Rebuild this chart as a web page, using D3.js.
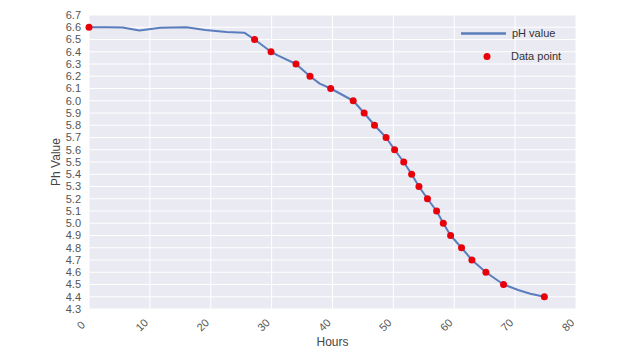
<!DOCTYPE html>
<style>
  html, body { margin:0; background:#fff; overflow:hidden; }
  text { font-family: "Liberation Sans", Arial, sans-serif; }
</style>
<svg width="640" height="353"></svg>
<script src="https://d3js.org/d3.v7.min.js"></script>
<script>

// sampled data points (red dots)
var dataHours = [0, 27.2, 29.9, 34.0, 36.3, 39.7, 43.4, 45.2, 46.9, 48.8, 50.2, 51.7, 53.0,
                 54.2, 55.6, 57.1, 58.2, 59.4, 61.2, 62.9, 65.2, 68.1, 74.8];
var dataPh = [6.6, 6.5, 6.4, 6.3, 6.2, 6.1, 6.0, 5.9, 5.8, 5.7, 5.6, 5.5, 5.4,
              5.3, 5.2, 5.1, 5.0, 4.9, 4.8, 4.7, 4.6, 4.5, 4.4];

// continuous pH curve
var lineHours = [0, 3, 5.5, 8.3, 11.7, 16, 19.1, 22.6, 25.5, 27.2, 29.9, 31, 34.0, 36.3, 37.9,
                 39.7, 43.4, 45.2, 46.9, 48.8, 50.2, 51.7, 53.0, 54.2, 55.6, 57.1, 58.2, 59.4,
                 61.2, 62.9, 65.2, 68.1, 70.5, 72.5, 74.8];
var linePh = [6.6, 6.6, 6.598, 6.573, 6.595, 6.6, 6.578, 6.562, 6.556, 6.5, 6.4, 6.37, 6.3, 6.2, 6.14,
              6.1, 6.0, 5.9, 5.8, 5.7, 5.6, 5.5, 5.4, 5.3, 5.2, 5.1, 5.0, 4.9,
              4.8, 4.7, 4.6, 4.5, 4.455, 4.425, 4.4];

var xTicks = [0, 10, 20, 30, 40, 50, 60, 70, 80];
var yTicks = d3.range(43, 68).map(function(d) { return d / 10; });

var svg = d3.select("svg");
var plotL = 89, plotR = 576, plotT = 15, plotB = 309;

var x = d3.scaleLinear().domain([0, 80]).range([plotL, plotR]);
var y = d3.scaleLinear().domain([4.3, 6.7]).range([plotB, plotT]);

svg.append("rect")
    .attr("x", plotL).attr("y", plotT)
    .attr("width", plotR - plotL).attr("height", plotB - plotT)
    .attr("fill", "#eaeaf2");

var grid = svg.append("g").attr("stroke", "#fff").attr("stroke-width", 1);
grid.selectAll(".gx").data(xTicks).enter().append("line")
    .attr("x1", function(d) { return x(d); }).attr("x2", function(d) { return x(d); })
    .attr("y1", plotT).attr("y2", plotB);
grid.selectAll(".gy").data(yTicks).enter().append("line")
    .attr("y1", function(d) { return y(d); }).attr("y2", function(d) { return y(d); })
    .attr("x1", plotL).attr("x2", plotR);

svg.append("g").selectAll("text").data(yTicks).enter().append("text")
    .attr("x", plotL - 8).attr("y", function(d) { return y(d); })
    .attr("dy", "0.35em")
    .attr("text-anchor", "end")
    .attr("font-size", 11).attr("fill", "#555")
    .text(function(d) { return d.toFixed(1); });

svg.append("g").selectAll("text").data(xTicks).enter().append("text")
    .attr("transform", function(d) { return "translate(" + (x(d) - 8) + ",325) rotate(-45)"; })
    .attr("dy", "0.35em")
    .attr("text-anchor", "middle")
    .attr("font-size", 11).attr("fill", "#555")
    .text(function(d) { return d; });

svg.append("text")
    .attr("x", (plotL + plotR) / 2).attr("y", 346)
    .attr("text-anchor", "middle").attr("font-size", 12).attr("fill", "#444")
    .text("Hours");

svg.append("text")
    .attr("transform", "translate(60," + (plotT + plotB) / 2 + ") rotate(-90)")
    .attr("text-anchor", "middle").attr("font-size", 12).attr("fill", "#444")
    .text("Ph Value");

var line = d3.line()
    .x(function(d, i) { return x(lineHours[i]); })
    .y(function(d) { return y(d); });

svg.append("path")
    .datum(linePh)
    .attr("d", line)
    .attr("fill", "none")
    .attr("stroke", "#5a7dbd")
    .attr("stroke-width", 2)
    .attr("stroke-linejoin", "round");

svg.append("g").selectAll("circle").data(dataPh).enter().append("circle")
    .attr("cx", function(d, i) { return x(dataHours[i]); })
    .attr("cy", function(d) { return y(d); })
    .attr("r", 3.5)
    .attr("fill", "#e8000b");

// legend
var lg = svg.append("g");
lg.append("line")
    .attr("x1", 461).attr("x2", 506).attr("y1", 33.5).attr("y2", 33.5)
    .attr("stroke", "#5a7dbd").attr("stroke-width", 2.5);
lg.append("text").attr("x", 512).attr("y", 33.5).attr("dy", "0.35em")
    .attr("font-size", 11).attr("fill", "#333").text("pH value");
lg.append("circle").attr("cx", 487).attr("cy", 56.5).attr("r", 3.5).attr("fill", "#e8000b");
lg.append("text").attr("x", 511).attr("y", 56.5).attr("dy", "0.35em")
    .attr("font-size", 11).attr("fill", "#333").text("Data point");

</script>
